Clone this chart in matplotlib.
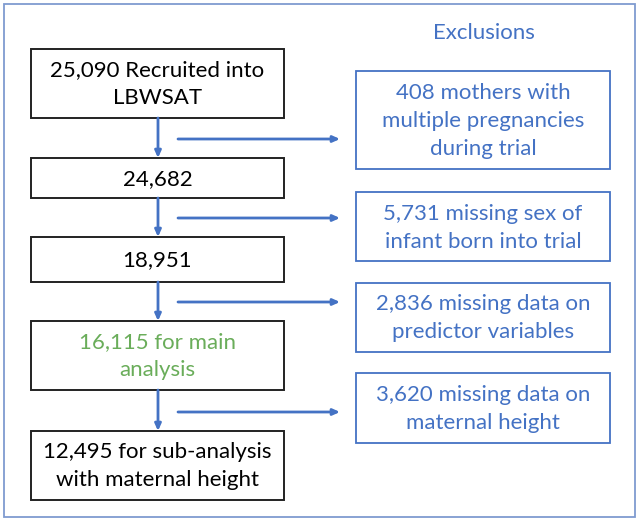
import matplotlib
matplotlib.use("Agg")
import matplotlib.pyplot as plt
from matplotlib.patches import Rectangle

plt.rcParams['font.family'] = ['Lato', 'DejaVu Sans']

# Flow boxes (main pathway)
main_labels = [
    "25,090 Recruited into\nLBWSAT",
    "24,682",
    "18,951",
    "16,115 for main\nanalysis",
    "12,495 for sub-analysis\nwith maternal height",
]
main_colors = ["black", "black", "black", "#6AAD5A", "black"]
main_y = [(49, 118), (158, 198), (237, 282), (321, 390), (431, 500)]

# Exclusion boxes
excl_title = "Exclusions"
excl_labels = [
    "408 mothers with\nmultiple pregnancies\nduring trial",
    "5,731 missing sex of\ninfant born into trial",
    "2,836 missing data on\npredictor variables",
    "3,620 missing data on\nmaternal height",
]
excl_y = [(71, 169), (192, 261), (283, 352), (373, 443)]
arrow_y = [139, 218, 302, 412]

BLUE = "#4472C4"
W, H = 640, 521
fig = plt.figure(figsize=(W / 100, H / 100), dpi=100)
ax = fig.add_axes([0, 0, 1, 1])
ax.set_xlim(0, W)
ax.set_ylim(H, 0)
ax.axis("off")

# outer frame
ax.add_patch(Rectangle((4, 4), 631, 513, fill=False, ec="#7F9BD0", lw=1.3))

FS = 16
LS = 1.5
ASTYLE = "-|>,head_length=0.4,head_width=0.18"
mx0, mx1 = 31, 284
for (y0, y1), lab, c in zip(main_y, main_labels, main_colors):
    ax.add_patch(Rectangle((mx0, y0), mx1 - mx0, y1 - y0, fill=False, ec="#222222", lw=1.4))
    ax.text((mx0 + mx1) / 2, (y0 + y1) / 2 + 1, lab, ha="center", va="center",
            color=c, fontsize=FS, linespacing=LS)

# vertical arrows
ax_x = 158
for (a0, a1), (b0, b1) in zip(main_y[:-1], main_y[1:]):
    ax.annotate("", xy=(ax_x, b0), xytext=(ax_x, a1),
                arrowprops=dict(arrowstyle=ASTYLE, color=BLUE, lw=2,
                                shrinkA=0, shrinkB=0))

ex0, ex1 = 356, 610
ax.text((ex0 + ex1) / 2 + 1, 33, excl_title, ha="center", va="center",
        color=BLUE, fontsize=FS)
for (y0, y1), lab in zip(excl_y, excl_labels):
    ax.add_patch(Rectangle((ex0, y0), ex1 - ex0, y1 - y0, fill=False, ec=BLUE, lw=1.3))
    ax.text((ex0 + ex1) / 2, (y0 + y1) / 2 + 1, lab, ha="center", va="center",
            color=BLUE, fontsize=FS, linespacing=LS)

# horizontal arrows
for y in arrow_y:
    ax.annotate("", xy=(340, y), xytext=(178, y),
                arrowprops=dict(arrowstyle=ASTYLE, color=BLUE, lw=2,
                                shrinkA=0, shrinkB=0))

fig.savefig("out.png", dpi=100, facecolor="white")
